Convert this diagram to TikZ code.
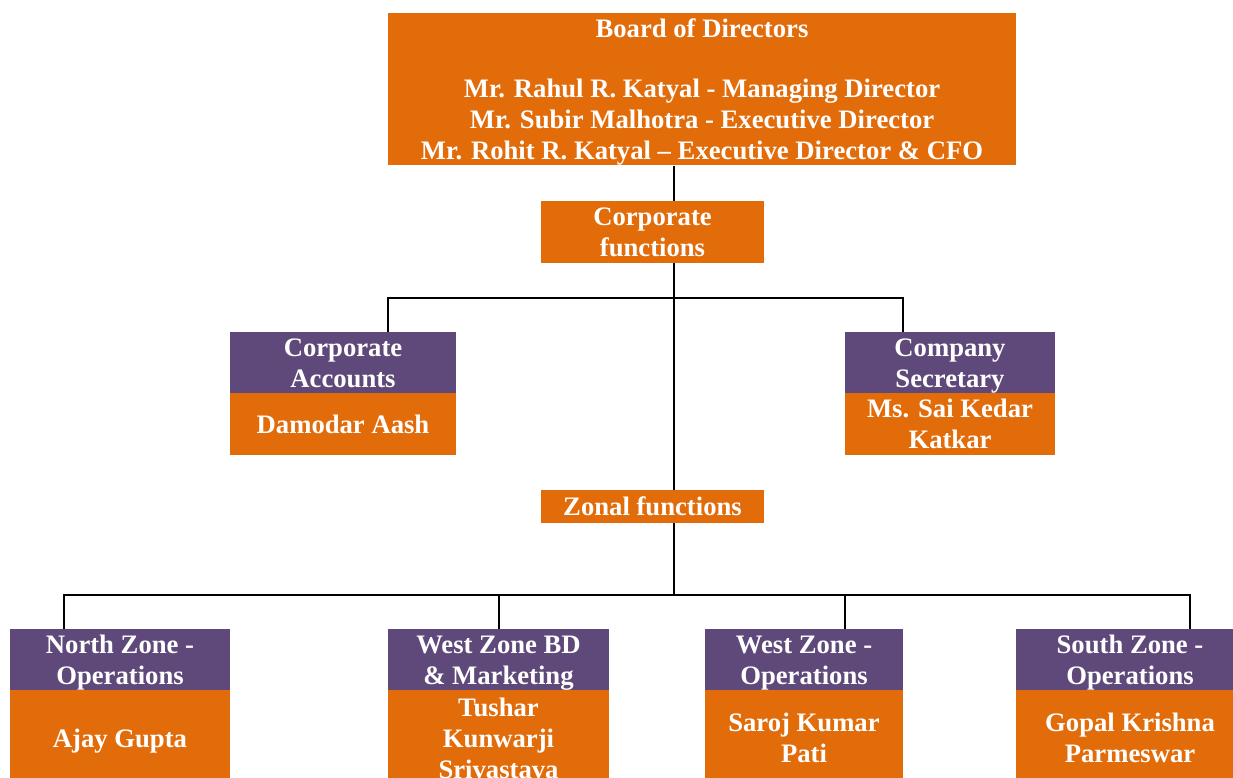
\documentclass[tikz,border=0pt]{standalone}
\usepackage{fontspec}
\setmainfont{Liberation Serif}
\usetikzlibrary{positioning}
\definecolor{chartorange}{RGB}{227,108,10}
\definecolor{chartpurple}{RGB}{95,73,122}
\newcommand{\boxstrut}{\rule{0pt}{10.9pt}}
\tikzstyle{box} = [rectangle, inner sep=0pt, text=white, align=center, font=\fontsize{12}{13.9}\selectfont\bfseries,
    execute at end node={\rule[-2.65pt]{0pt}{2.65pt}}]
\tikzstyle{orangebox} = [box, fill=chartorange]
\tikzstyle{purplebox} = [box, fill=chartpurple]
\tikzstyle{line} = [line width=0.9pt, black]

\begin{document}
\begin{tikzpicture}[x=0.45pt, y=-0.45pt]
    \clip (0,0) rectangle (1233,777);

    \node (board) [orangebox, minimum width=282.6pt, minimum height=68.4pt] at (702,89)
        {\boxstrut Board of Directors\\[13.2pt] Mr. Rahul R. Katyal - Managing Director\\ Mr. Subir Malhotra - Executive Director\\ Mr. Rohit R. Katyal -- Executive Director \& CFO};
    \node (corpfun) [orangebox, minimum width=100.35pt, minimum height=27.9pt] at (652.5,232) {\boxstrut Corporate\\ functions};

    \node (accts) [purplebox, minimum width=101.7pt, minimum height=27.45pt] at (343,362.5) {\boxstrut Corporate\\ Accounts};
    \node (acctsname) [orangebox, minimum width=101.7pt, minimum height=27.9pt, below=-0.3pt of accts] {\boxstrut Damodar Aash};
    \node (secr) [purplebox, minimum width=94.5pt, minimum height=27.45pt] at (950,362.5) {\boxstrut Company\\ Secretary};
    \node (secrname) [orangebox, minimum width=94.5pt, minimum height=27.9pt, below=-0.3pt of secr] {\boxstrut Ms. Sai Kedar\\ Katkar};

    \node (zonal) [orangebox, minimum width=100.35pt, minimum height=14.85pt] at (652.5,506.5) {\boxstrut Zonal functions};

    \node (north) [purplebox, minimum width=99pt, minimum height=27.45pt] at (120,659.5) {\boxstrut North Zone -\\ Operations};
    \node (northname) [orangebox, minimum width=99pt, minimum height=43.2pt, below=-0.3pt of north] {\boxstrut Ajay Gupta};
    \node (westbd) [purplebox, minimum width=99.45pt, minimum height=27.45pt] at (498.5,659.5) {\boxstrut West Zone BD\\ \& Marketing};
    \node (westbdname) [orangebox, minimum width=99.45pt, minimum height=43.2pt, below=-0.3pt of westbd] {\boxstrut Tushar\\ Kunwarji\\ Srivastava};
    \node (westops) [purplebox, minimum width=89.1pt, minimum height=27.45pt] at (804,659.5) {\boxstrut West Zone -\\ Operations};
    \node (westopsname) [orangebox, minimum width=89.1pt, minimum height=43.2pt, below=-0.3pt of westops] {\boxstrut Saroj Kumar\\ Pati};
    \node (south) [purplebox, minimum width=102.6pt, minimum height=27.45pt] at (1130,659.5) {\boxstrut South Zone -\\ Operations};
    \node (southname) [orangebox, minimum width=102.6pt, minimum height=43.2pt, below=-0.3pt of south] {\boxstrut Gopal Krishna\\ Parmeswar};

    \coordinate (trunk) at (674,0);
    \coordinate (corpleft) at (388,298);
    \coordinate (corpright) at (903,298);
    \coordinate (zonehub) at (674,595);
    \coordinate (zoneleft) at (64,595);
    \coordinate (zoneright) at (1190,595);
    \coordinate (westopsdrop) at (845,595);

    \draw [line] (board.south -| trunk) -- (corpfun.north -| trunk);
    \draw [line] (corpfun.south -| trunk) -- (zonal.north -| trunk);
    \draw [line] (accts.north -| corpleft) -- (corpleft) -- (corpright) -- (secr.north -| corpright);
    \draw [line] (zonal.south -| trunk) -- (zonehub);
    \draw [line] (north.north -| zoneleft) -- (zoneleft) -- (zoneright) -- (south.north -| zoneright);
    \draw [line] (westbd.north) -- (westbd.north |- zoneleft);
    \draw [line] (westops.north -| westopsdrop) -- (westopsdrop);
\end{tikzpicture}
\end{document}
